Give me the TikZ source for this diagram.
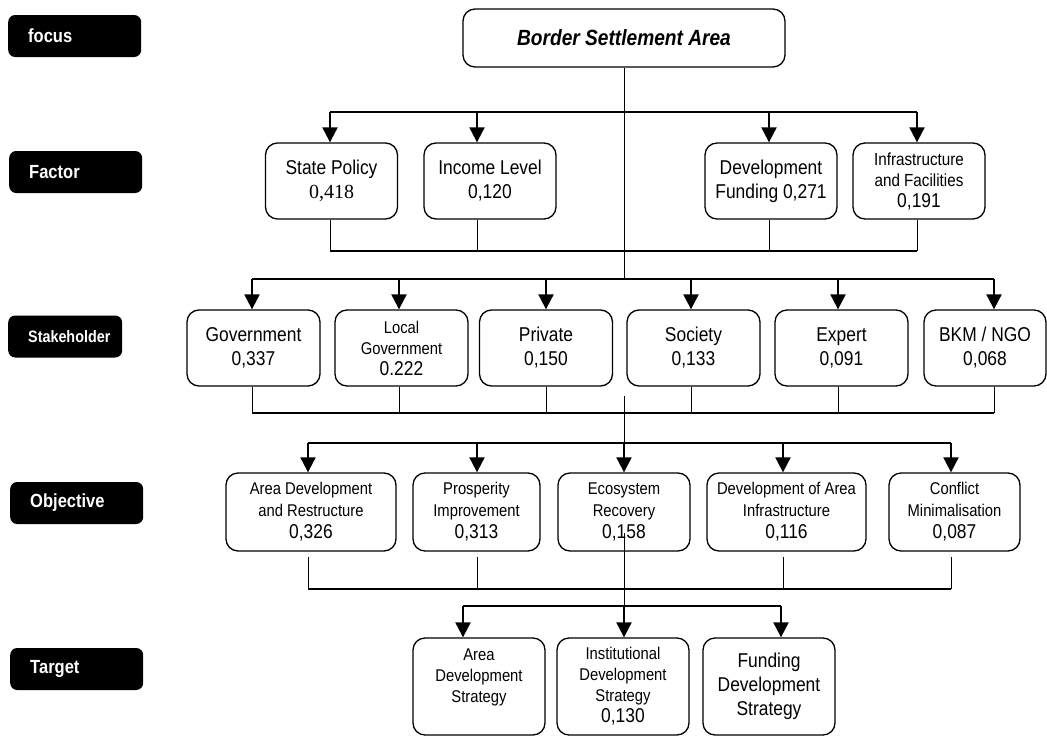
\documentclass[tikz,border=0pt]{standalone}
\usepackage{fontspec}
\setmainfont{Liberation Sans}[FakeStretch=0.87]
\newfontfamily\serifnum{Liberation Serif}
\usetikzlibrary{arrows.meta}
\newcommand\score[1]{{\fontsize{20}{22}\selectfont #1}}
\tikzset{
  lvl/.style={fill=black, text=white, rounded corners=7pt, minimum height=42pt,
    inner xsep=20pt, align=left, anchor=west, font=\bfseries\fontsize{19}{21}\selectfont},
  box/.style={draw, line width=1.3pt, rounded corners=12pt, align=center, inner sep=1pt},
  bar/.style={line width=2pt},
  arr/.style={line width=2pt, -{Triangle[width=15pt,length=15pt]}},
  col/.style={line width=1.3pt},
  stub/.style={line width=1pt}
}
\begin{document}
\begin{tikzpicture}[x=1pt,y=-1pt]
  \useasboundingbox (0,0) rectangle (1047,736);
  % level labels
  \node[lvl, text width=93pt] (focus) at (8,36) {focus};
  \node[lvl, text width=93pt] (factor) at (9,172) {Factor};
  \node[lvl, text width=74pt, font=\bfseries\fontsize{16.5}{19}\selectfont] (stake) at (8,336.5) {Stakeholder};
  \node[lvl, text width=93pt] (object) at (10,503) {Objective};
  \node[lvl, text width=93pt] (target) at (10,669) {Target};
  % focus
  \node[box, minimum width=322pt, minimum height=58pt, font=\bfseries\itshape\fontsize{22}{26}\selectfont] (bsa) at (624,38) {Border Settlement Area};
  % factors
  \begin{scope}[every node/.style={box, minimum width=132pt, minimum height=76pt, font=\fontsize{20}{24}\selectfont}]
    \node (pol) at (331.5,181) {State Policy\\{\serifnum 0,418}};
    \node (inc) at (490,181) {Income Level\\0,120};
    \node (fund) at (771,181) {Development\\Funding 0,271};
    \node[font=\fontsize{17.5}{21}\selectfont] (infra) at (919,181) {Infrastructure\\and Facilities\\\score{0,191}};
  \end{scope}
  % stakeholders
  \begin{scope}[every node/.style={box, minimum width=133pt, minimum height=76pt, font=\fontsize{20}{24}\selectfont}]
    \node (gov) at (253.5,348) {Government\\0,337};
    \node[font=\fontsize{17}{21}\selectfont] (lgov) at (401.5,348) {Local\\Government\\\score{0.222}};
    \node (priv) at (546,348) {Private\\0,150};
    \node (soc) at (693.5,348) {Society\\0,133};
    \node (exp) at (841.5,348) {Expert\\0,091};
    \node[minimum width=122pt] (ngo) at (985,348) {BKM / NGO\\0,068};
  \end{scope}
  % objectives
  \begin{scope}[every node/.style={box, minimum height=78pt, font=\fontsize{17}{22}\selectfont}]
    \node[minimum width=170pt] (ard) at (311,512) {Area Development\\and Restructure\\\score{0,326}};
    \node[minimum width=127pt] (pros) at (476.5,512) {Prosperity\\Improvement\\\score{0,313}};
    \node[minimum width=132pt] (eco) at (624,512) {Ecosystem\\Recovery\\\score{0,158}};
    \node[minimum width=159pt] (doa) at (786.5,512) {Development of Area\\Infrastructure\\\score{0,116}};
    \node[minimum width=131pt] (con) at (954.5,512) {Conflict\\Minimalisation\\\score{0,087}};
  \end{scope}
  % targets
  \begin{scope}[every node/.style={box, minimum width=132pt, minimum height=97pt, font=\fontsize{17}{21}\selectfont}]
    \node (ads) at (479,686.5) {Area\\Development\\Strategy\\\mbox{}};
    \node (ids) at (623,686.5) {Institutional\\Development\\Strategy\\\score{0,130}};
    \node[font=\fontsize{20}{24}\selectfont] (fds) at (769,686.5) {Funding\\Development\\Strategy};
  \end{scope}

  % focus -> factors
  \path (330,112) coordinate (f1) (477,112) coordinate (f2) (769,112) coordinate (f3) (917,112) coordinate (f4);
  \draw[bar] (f1) -- (f4);
  \foreach \c/\n in {f1/pol,f2/inc,f3/fund,f4/infra}
    \draw[arr] (\c) -- (\c |- \n.north);
  \path (330,251) coordinate (g1) (917,251) coordinate (g4);
  \draw[col] (g1) -- (g4);
  \foreach \c/\n in {f1/pol,f2/inc,f3/fund,f4/infra}
    \draw[stub] (\c |- \n.south) -- (\c |- g1);

  % factors -> stakeholders
  \path (252,279) coordinate (s1) (399,279) coordinate (s2) (546,279) coordinate (s3)
        (691,279) coordinate (s4) (838,279) coordinate (s5) (994,279) coordinate (s6);
  \draw[stub] (bsa.south) -- (bsa.south |- s1);
  \draw[bar] (s1) -- (s6);
  \foreach \c/\n in {s1/gov,s2/lgov,s3/priv,s4/soc,s5/exp,s6/ngo}
    \draw[arr] (\c) -- (\c |- \n.north);
  \path (252,413) coordinate (h1) (994,413) coordinate (h6);
  \draw[col] (h1) -- (h6);
  \foreach \c/\n in {s1/gov,s2/lgov,s3/priv,s4/soc,s5/exp,s6/ngo}
    \draw[stub] (\c |- \n.south) -- (\c |- h1);

  % stakeholders -> objectives
  \path (308,443) coordinate (o1) (477,443) coordinate (o2) (624,443) coordinate (o3)
        (783,443) coordinate (o4) (951,443) coordinate (o5) (624,396) coordinate (smid);
  \draw[stub] (smid) -- (o3);
  \draw[bar] (o1) -- (o5);
  \foreach \c/\n in {o1/ard,o2/pros,o3/eco,o4/doa,o5/con}
    \draw[arr] (\c) -- (\c |- \n.north);
  \path (308,589) coordinate (p1) (951,589) coordinate (p5);
  \draw[col] (p1) -- (p5);
  \foreach \c/\n in {o1/ard,o2/pros,o4/doa,o5/con}
    \draw[stub] ([yshift=-5pt]\c |- \n.south) -- (\c |- p1);

  % objectives -> targets
  \path (463,606) coordinate (t1) (624,606) coordinate (t2) (781,606) coordinate (t3) (624,533) coordinate (omid);
  \draw[stub] (omid) -- (t2);
  \draw[bar] (t1) -- (t3);
  \foreach \c/\n in {t1/ads,t2/ids,t3/fds}
    \draw[arr] (\c) -- (\c |- \n.north);
\end{tikzpicture}
\end{document}
